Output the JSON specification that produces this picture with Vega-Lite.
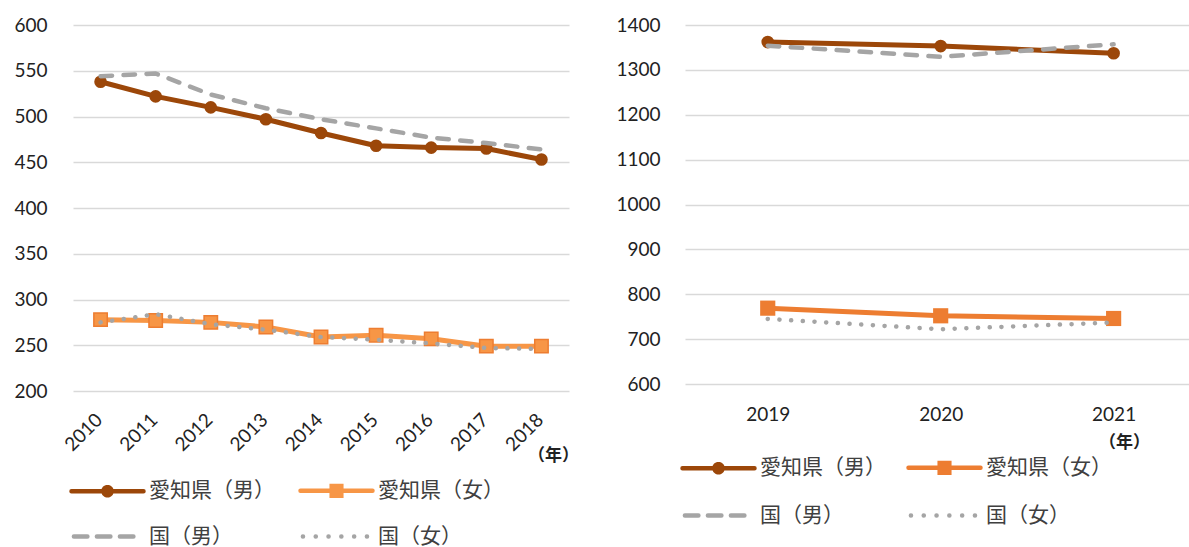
{
  "$schema": "https://vega.github.io/schema/vega-lite/v6.json",
  "padding": {"left": 13, "top": 16, "right": 0, "bottom": 0},
  "spacing": 36,
  "datasets": {
    "left": [
      {"year": "2010", "series": "愛知県（男）", "value": 538},
      {"year": "2011", "series": "愛知県（男）", "value": 522},
      {"year": "2012", "series": "愛知県（男）", "value": 510},
      {"year": "2013", "series": "愛知県（男）", "value": 497},
      {"year": "2014", "series": "愛知県（男）", "value": 482},
      {"year": "2015", "series": "愛知県（男）", "value": 468},
      {"year": "2016", "series": "愛知県（男）", "value": 466},
      {"year": "2017", "series": "愛知県（男）", "value": 465},
      {"year": "2018", "series": "愛知県（男）", "value": 453},
      {"year": "2010", "series": "愛知県（女）", "value": 278},
      {"year": "2011", "series": "愛知県（女）", "value": 277},
      {"year": "2012", "series": "愛知県（女）", "value": 275},
      {"year": "2013", "series": "愛知県（女）", "value": 270},
      {"year": "2014", "series": "愛知県（女）", "value": 259},
      {"year": "2015", "series": "愛知県（女）", "value": 261},
      {"year": "2016", "series": "愛知県（女）", "value": 257},
      {"year": "2017", "series": "愛知県（女）", "value": 249},
      {"year": "2018", "series": "愛知県（女）", "value": 249},
      {"year": "2010", "series": "国（男）", "value": 544},
      {"year": "2011", "series": "国（男）", "value": 547},
      {"year": "2012", "series": "国（男）", "value": 524},
      {"year": "2013", "series": "国（男）", "value": 509},
      {"year": "2014", "series": "国（男）", "value": 497},
      {"year": "2015", "series": "国（男）", "value": 487},
      {"year": "2016", "series": "国（男）", "value": 477},
      {"year": "2017", "series": "国（男）", "value": 471},
      {"year": "2018", "series": "国（男）", "value": 464},
      {"year": "2010", "series": "国（女）", "value": 275},
      {"year": "2011", "series": "国（女）", "value": 284},
      {"year": "2012", "series": "国（女）", "value": 273},
      {"year": "2013", "series": "国（女）", "value": 267},
      {"year": "2014", "series": "国（女）", "value": 259},
      {"year": "2015", "series": "国（女）", "value": 256},
      {"year": "2016", "series": "国（女）", "value": 252},
      {"year": "2017", "series": "国（女）", "value": 247},
      {"year": "2018", "series": "国（女）", "value": 246}
    ],
    "right": [
      {"year": "2019", "series": "愛知県（男）", "value": 1362},
      {"year": "2020", "series": "愛知県（男）", "value": 1353},
      {"year": "2021", "series": "愛知県（男）", "value": 1337},
      {"year": "2019", "series": "愛知県（女）", "value": 769},
      {"year": "2020", "series": "愛知県（女）", "value": 752},
      {"year": "2021", "series": "愛知県（女）", "value": 746},
      {"year": "2019", "series": "国（男）", "value": 1354},
      {"year": "2020", "series": "国（男）", "value": 1329},
      {"year": "2021", "series": "国（男）", "value": 1357},
      {"year": "2019", "series": "国（女）", "value": 745},
      {"year": "2020", "series": "国（女）", "value": 722},
      {"year": "2021", "series": "国（女）", "value": 737}
    ]
  },
  "resolve": {
    "scale": {"x": "independent", "y": "independent", "strokeDash": "independent", "shape": "independent", "fill": "independent", "stroke": "independent"},
    "legend": {"strokeDash": "independent", "shape": "independent", "fill": "independent", "stroke": "independent"}
  },
  "hconcat": [
    {
      "width": 496,
      "height": 366,
      "data": {"name": "left"},
      "encoding": {
        "x": {"field": "year", "type": "ordinal", "scale": {"type": "point", "padding": 0.5},
          "axis": {"labelAngle": -45, "labelAlign": "right", "labelBaseline": "top", "labelPadding": 19, "labelOffset": -8, "title": "（年）", "titleX": 480, "titleY": 64, "titleAngle": 0, "titleAlign": "center", "titleBaseline": "middle", "titleFont": "Noto Sans CJK JP", "titleFontSize": 17, "titleFontWeight": "bold", "titleColor": "#222222"}},
        "y": {"field": "value", "type": "quantitative", "scale": {"domain": [200, 600], "nice": false},
          "axis": {"values": [200, 250, 300, 350, 400, 450, 500, 550, 600], "format": "d", "labelPadding": 26, "title": null}}
      },
      "layer": [
        {
          "transform": [{"filter": "datum.series === '愛知県（男）'"}],
          "mark": {"type": "line", "strokeWidth": 5, "strokeCap": "round", "strokeJoin": "round", "color": "#9C4709"},
          "encoding": {}
        },
        {
          "transform": [{"filter": "datum.series === '愛知県（男）'"}],
          "mark": {"type": "point", "shape": "circle", "filled": true, "size": 160, "color": "#9C4709", "opacity": 1}
        },
        {
          "transform": [{"filter": "datum.series === '愛知県（女）'"}],
          "mark": {"type": "line", "strokeWidth": 5, "strokeCap": "round", "strokeJoin": "round", "color": "#F79646"},
          "encoding": {}
        },
        {
          "transform": [{"filter": "datum.series === '愛知県（女）'"}],
          "mark": {"type": "point", "shape": "square", "filled": true, "size": 180, "fill": "#F79646", "stroke": "#ED7D31", "strokeWidth": 1.5, "opacity": 1}
        },
        {
          "transform": [{"filter": "datum.series === '国（男）'"}],
          "mark": {"type": "line", "strokeWidth": 4.5, "strokeCap": "round", "strokeJoin": "round", "color": "#A5A5A5", "strokeDash": [11.5, 11.5]},
          "encoding": {}
        },
        {
          "transform": [{"filter": "datum.series === '国（女）'"}],
          "mark": {"type": "line", "strokeWidth": 4.5, "strokeCap": "round", "strokeJoin": "round", "color": "#A5A5A5", "strokeDash": [0.1, 11.6]},
          "encoding": {}
        },
        {
          "transform": [{"filter": "datum.value < 0"}],
          "mark": {"type": "point", "filled": true},
          "encoding": {
            "shape": {"field": "series", "type": "nominal",
              "scale": {"domain": ["愛知県（男）", "愛知県（女）", "国（男）", "国（女）"], "range": ["M-3,0H3M0.34,0A0.34,0.34 0 1 1 -0.34,0A0.34,0.34 0 1 1 0.34,0Z", "M-3,0H3M-0.4,-0.4H0.4V0.4H-0.4Z", "M-2.8,0H2.6", "M-2.8,0H2.6"]},
              "legend": {"orient": "none", "legendX": 20, "legendY": 451, "columns": 2, "direction": "horizontal", "title": null, "labelFont": "Noto Sans CJK JP", "labelFontSize": 21, "labelColor": "#404040", "symbolSize": 576, "symbolStrokeWidth": 4.5, "symbolOpacity": 1, "labelOffset": 27, "columnPadding": 16, "rowPadding": 17, "padding": 0, "labelLimit": 300, "encode": {"symbols": {"update": {"strokeCap": {"value": "round"}}}}}},
            "fill": {"field": "series", "type": "nominal", "scale": {"domain": ["愛知県（男）", "愛知県（女）", "国（男）", "国（女）"], "range": ["#9C4709", "#F79646", "#A5A5A5", "#A5A5A5"]},
              "legend": {"orient": "none", "legendX": 20, "legendY": 451, "columns": 2, "direction": "horizontal", "title": null, "labelFont": "Noto Sans CJK JP", "labelFontSize": 21, "labelColor": "#404040", "symbolSize": 576, "symbolStrokeWidth": 4.5, "symbolOpacity": 1, "labelOffset": 27, "columnPadding": 16, "rowPadding": 17, "padding": 0, "labelLimit": 300, "encode": {"symbols": {"update": {"strokeCap": {"value": "round"}}}}}},
            "stroke": {"field": "series", "type": "nominal", "scale": {"domain": ["愛知県（男）", "愛知県（女）", "国（男）", "国（女）"], "range": ["#9C4709", "#F79646", "#A5A5A5", "#A5A5A5"]},
              "legend": {"orient": "none", "legendX": 20, "legendY": 451, "columns": 2, "direction": "horizontal", "title": null, "labelFont": "Noto Sans CJK JP", "labelFontSize": 21, "labelColor": "#404040", "symbolSize": 576, "symbolStrokeWidth": 4.5, "symbolOpacity": 1, "labelOffset": 27, "columnPadding": 16, "rowPadding": 17, "padding": 0, "labelLimit": 300, "encode": {"symbols": {"update": {"strokeCap": {"value": "round"}}}}}},
            "strokeDash": {"field": "series", "type": "nominal", "scale": {"domain": ["愛知県（男）", "愛知県（女）", "国（男）", "国（女）"], "range": [[1, 0], [1, 0], [13.5, 9.5], [0.1, 12.7]]},
              "legend": {"orient": "none", "legendX": 20, "legendY": 451, "columns": 2, "direction": "horizontal", "title": null, "labelFont": "Noto Sans CJK JP", "labelFontSize": 21, "labelColor": "#404040", "symbolSize": 576, "symbolStrokeWidth": 4.5, "symbolOpacity": 1, "labelOffset": 27, "columnPadding": 16, "rowPadding": 17, "padding": 0, "labelLimit": 300, "encode": {"symbols": {"update": {"strokeCap": {"value": "round"}}}}}}
          }
        }
      ]
    },
    {
      "width": 505,
      "height": 359,
      "data": {"name": "right"},
      "encoding": {
        "x": {"field": "year", "type": "ordinal", "scale": {"type": "point", "padding": 0.46, "align": 0.52},
          "axis": {"labelAngle": 0, "labelPadding": 21, "labelBaseline": "top", "title": "（年）", "titleX": 439, "titleY": 58, "titleAngle": 0, "titleAlign": "center", "titleBaseline": "middle", "titleFont": "Noto Sans CJK JP", "titleFontSize": 17, "titleFontWeight": "bold", "titleColor": "#222222"}},
        "y": {"field": "value", "type": "quantitative", "scale": {"domain": [600, 1400], "nice": false},
          "axis": {"values": [600, 700, 800, 900, 1000, 1100, 1200, 1300, 1400], "format": "d", "labelPadding": 25, "title": null}}
      },
      "layer": [
        {
          "transform": [{"filter": "datum.series === '愛知県（男）'"}],
          "mark": {"type": "line", "strokeWidth": 5, "strokeCap": "round", "strokeJoin": "round", "color": "#9C4709"},
          "encoding": {}
        },
        {
          "transform": [{"filter": "datum.series === '愛知県（男）'"}],
          "mark": {"type": "point", "shape": "circle", "filled": true, "size": 160, "color": "#9C4709", "opacity": 1}
        },
        {
          "transform": [{"filter": "datum.series === '愛知県（女）'"}],
          "mark": {"type": "line", "strokeWidth": 5, "strokeCap": "round", "strokeJoin": "round", "color": "#ED7D31"},
          "encoding": {}
        },
        {
          "transform": [{"filter": "datum.series === '愛知県（女）'"}],
          "mark": {"type": "point", "shape": "square", "filled": true, "size": 230, "color": "#ED7D31", "opacity": 1}
        },
        {
          "transform": [{"filter": "datum.series === '国（男）'"}],
          "mark": {"type": "line", "strokeWidth": 4.5, "strokeCap": "round", "strokeJoin": "round", "color": "#A5A5A5", "strokeDash": [11.5, 11.5]},
          "encoding": {}
        },
        {
          "transform": [{"filter": "datum.series === '国（女）'"}],
          "mark": {"type": "line", "strokeWidth": 4.5, "strokeCap": "round", "strokeJoin": "round", "color": "#A5A5A5", "strokeDash": [0.1, 11.6]},
          "encoding": {}
        },
        {
          "transform": [{"filter": "datum.value < 0"}],
          "mark": {"type": "point", "filled": true},
          "encoding": {
            "shape": {"field": "series", "type": "nominal",
              "scale": {"domain": ["愛知県（男）", "愛知県（女）", "国（男）", "国（女）"], "range": ["M-3,0H3M0.34,0A0.34,0.34 0 1 1 -0.34,0A0.34,0.34 0 1 1 0.34,0Z", "M-3,0H3M-0.4,-0.4H0.4V0.4H-0.4Z", "M-2.8,0H2.6", "M-2.8,0H2.6"]},
              "legend": {"orient": "none", "legendX": 19, "legendY": 428, "columns": 2, "direction": "horizontal", "title": null, "labelFont": "Noto Sans CJK JP", "labelFontSize": 21, "labelColor": "#404040", "symbolSize": 576, "symbolStrokeWidth": 4.5, "symbolOpacity": 1, "labelOffset": 27, "columnPadding": 13, "rowPadding": 19, "padding": 0, "labelLimit": 300, "encode": {"symbols": {"update": {"strokeCap": {"value": "round"}}}}}},
            "fill": {"field": "series", "type": "nominal", "scale": {"domain": ["愛知県（男）", "愛知県（女）", "国（男）", "国（女）"], "range": ["#9C4709", "#ED7D31", "#A5A5A5", "#A5A5A5"]},
              "legend": {"orient": "none", "legendX": 19, "legendY": 428, "columns": 2, "direction": "horizontal", "title": null, "labelFont": "Noto Sans CJK JP", "labelFontSize": 21, "labelColor": "#404040", "symbolSize": 576, "symbolStrokeWidth": 4.5, "symbolOpacity": 1, "labelOffset": 27, "columnPadding": 13, "rowPadding": 19, "padding": 0, "labelLimit": 300, "encode": {"symbols": {"update": {"strokeCap": {"value": "round"}}}}}},
            "stroke": {"field": "series", "type": "nominal", "scale": {"domain": ["愛知県（男）", "愛知県（女）", "国（男）", "国（女）"], "range": ["#9C4709", "#ED7D31", "#A5A5A5", "#A5A5A5"]},
              "legend": {"orient": "none", "legendX": 19, "legendY": 428, "columns": 2, "direction": "horizontal", "title": null, "labelFont": "Noto Sans CJK JP", "labelFontSize": 21, "labelColor": "#404040", "symbolSize": 576, "symbolStrokeWidth": 4.5, "symbolOpacity": 1, "labelOffset": 27, "columnPadding": 13, "rowPadding": 19, "padding": 0, "labelLimit": 300, "encode": {"symbols": {"update": {"strokeCap": {"value": "round"}}}}}},
            "strokeDash": {"field": "series", "type": "nominal", "scale": {"domain": ["愛知県（男）", "愛知県（女）", "国（男）", "国（女）"], "range": [[1, 0], [1, 0], [13.5, 9.5], [0.1, 12.7]]},
              "legend": {"orient": "none", "legendX": 19, "legendY": 428, "columns": 2, "direction": "horizontal", "title": null, "labelFont": "Noto Sans CJK JP", "labelFontSize": 21, "labelColor": "#404040", "symbolSize": 576, "symbolStrokeWidth": 4.5, "symbolOpacity": 1, "labelOffset": 27, "columnPadding": 13, "rowPadding": 19, "padding": 0, "labelLimit": 300, "encode": {"symbols": {"update": {"strokeCap": {"value": "round"}}}}}}
          }
        }
      ]
    }
  ],
  "config": {
    "view": {"stroke": null},
    "axis": {"labelFont": "Lato", "labelFontSize": 19, "labelColor": "#222222", "ticks": false, "tickSize": 0, "domain": false, "grid": false},
    "axisY": {"grid": true, "gridColor": "#D9D9D9", "gridWidth": 1.5}
  }
}
